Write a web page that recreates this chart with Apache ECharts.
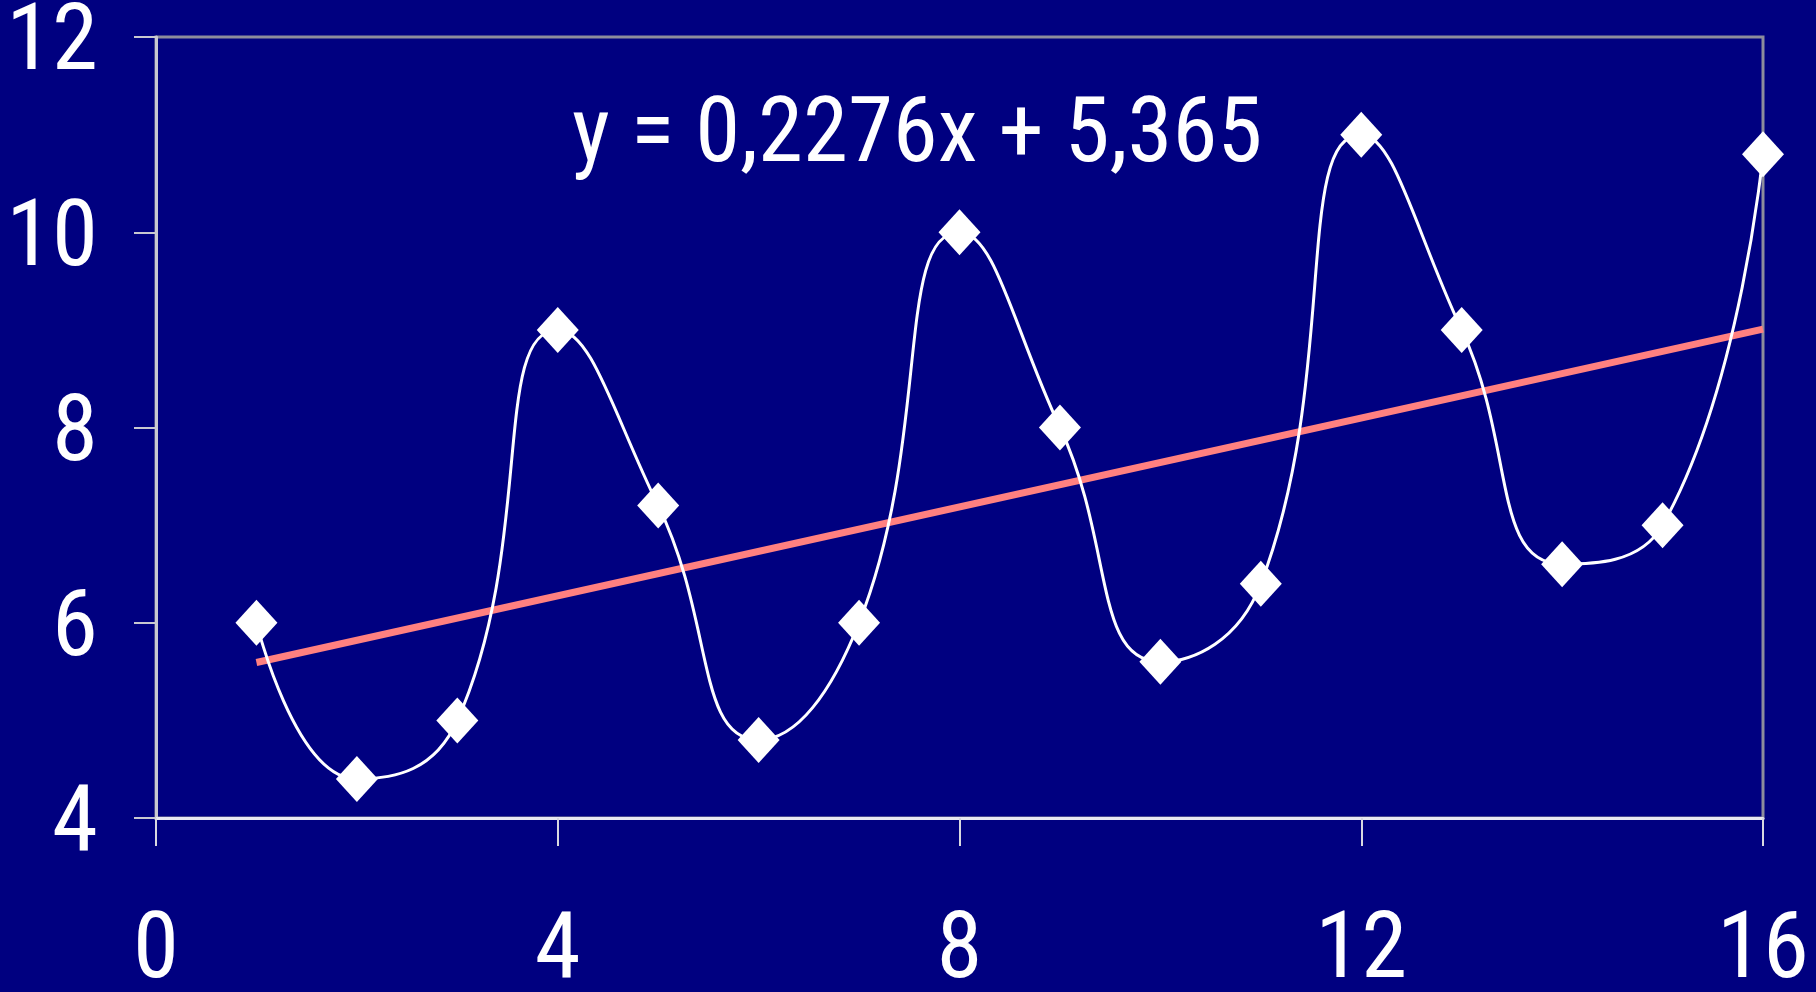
<!DOCTYPE html>
<html>
<head>
<meta charset="utf-8">
<script src="https://cdn.jsdelivr.net/npm/echarts@6/dist/echarts.min.js"></script>
<style>
  html, body { margin: 0; padding: 0; background: #000080; }
  #chart { width: 1816px; height: 992px; }
</style>
</head>
<body>
<div id="chart"></div>
<script>
// valeurs
var xValues = [1, 2, 3, 4, 5, 6, 7, 8, 9, 10, 11, 12, 13, 14, 15, 16];
var yValues = [6, 4.4, 5, 9, 7.2, 4.8, 6, 10, 8, 5.6, 6.4, 11, 9, 6.6, 7, 10.8];
var xTicks = [0, 4, 8, 12, 16];
var yTicks = [4, 6, 8, 10, 12];

// droite de tendance (moindres carres)
var n = xValues.length, sx = 0, sy = 0, sxy = 0, sxx = 0;
for (var i = 0; i < n; i++) {
  sx += xValues[i]; sy += yValues[i];
  sxy += xValues[i] * yValues[i]; sxx += xValues[i] * xValues[i];
}
var slope = (n * sxy - sx * sy) / (n * sxx - sx * sx);
var intercept = (sy - slope * sx) / n;
var trendData = [
  [xValues[0], intercept + slope * xValues[0]],
  [xValues[n - 1], intercept + slope * xValues[n - 1]]
];
var equation = 'y = ' + slope.toFixed(4).replace('.', ',') + 'x + ' + intercept.toFixed(3).replace('.', ',');

var pointData = xValues.map(function (x, k) { return [x, yValues[k]]; });

var font = '"Roboto Condensed", Roboto, sans-serif';

var myChart = echarts.init(document.getElementById('chart'));
myChart.setOption({
  backgroundColor: '#000080',
  animation: false,
  grid: {
    left: 156, right: 53, top: 37, bottom: 174,
    outerBoundsMode: 'none',
    containLabel: false,
    show: true,
    borderColor: '#8c8c9c',
    borderWidth: 3
  },
  xAxis: {
    type: 'value',
    min: xTicks[0], max: xTicks[xTicks.length - 1], interval: 4,
    axisLine: { lineStyle: { color: '#e8e8f0', width: 3 } },
    axisTick: { show: true, length: 28, lineStyle: { color: '#d8d8e0', width: 2 } },
    splitLine: { show: false },
    axisLabel: {
      color: '#ffffff', fontFamily: font, fontSize: 93, margin: 89,
      formatter: function (v) { return xTicks.indexOf(v) >= 0 ? String(v) : ''; }
    }
  },
  yAxis: {
    type: 'value',
    min: yTicks[0], max: yTicks[yTicks.length - 1], interval: 2,
    axisLine: { show: true, lineStyle: { color: '#c8c8d0', width: 3 } },
    axisTick: { show: true, length: 22, lineStyle: { color: '#c8c8d0', width: 2 } },
    splitLine: { show: false },
    axisLabel: {
      margin: 58,
      formatter: function (v) { return yTicks.indexOf(v) >= 0 ? '{t|' + v + '}' : ''; },
      rich: {
        t: {
          color: '#ffffff', fontFamily: font, fontSize: 93,
          padding: [18, 0, 0, 0]
        }
      }
    }
  },
  graphic: [{
    type: 'text',
    left: 572, top: 93,
    z: 10,
    style: {
      text: equation,
      fill: '#ffffff',
      font: '91px ' + font
    }
  }],
  series: [
    {
      name: 'tendance',
      type: 'line',
      data: trendData,
      showSymbol: false,
      z: 2,
      lineStyle: { color: '#ff8080', width: 7 }
    },
    {
      name: 'donnees',
      type: 'line',
      data: pointData,
      smooth: 0.5,
      symbol: 'diamond',
      symbolSize: [42, 46],
      z: 3,
      itemStyle: { color: '#ffffff' },
      lineStyle: { color: '#ffffff', width: 3 }
    }
  ]
});
</script>
</body>
</html>
